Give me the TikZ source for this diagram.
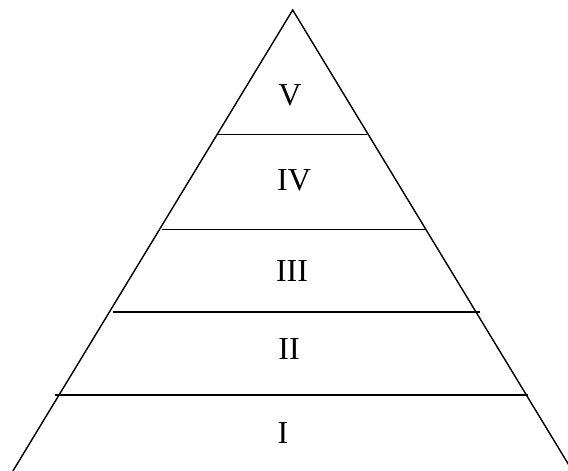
\documentclass[tikz,border=0pt]{standalone}
\usepackage{fontspec}
\setmainfont{Liberation Serif}
\begin{document}
\begin{tikzpicture}[x=1pt,y=1pt,
  edge/.style={line width=1.4pt,black},
  level/.style={font=\fontsize{32}{36}\selectfont,inner sep=0pt,anchor=center}]
\useasboundingbox (0,0) rectangle (568,471);
\clip (0,0) rectangle (568,471);
\coordinate (apex) at (292.7,461);
\coordinate (bl) at (12.9,0);
\coordinate (br) at (572.5,0);
\draw[edge] (bl) -- (apex) -- (br);
% level separators
\coordinate (a1) at (217,336.5);
\coordinate (a2) at (367,336.5);
\coordinate (b1) at (162,241.5);
\coordinate (b2) at (426,241.5);
\coordinate (c1) at (113,159);
\coordinate (c2) at (480,159);
\coordinate (d1) at (55,76);
\coordinate (d2) at (528,76);
\draw[edge] (a1) -- (a2);
\draw[edge] (b1) -- (b2);
\draw[edge] (c1) -- (c2);
\draw[edge] (d1) -- (d2);
\node[level] (l5) at (290,375.5) {V};
\node[level] (l4) at (294,290.5) {IV};
\node[level] (l3) at (292,200) {III};
\node[level] (l2) at (289,121.5) {II};
\node[level] (l1) at (283,38) {I};
\end{tikzpicture}
\end{document}
